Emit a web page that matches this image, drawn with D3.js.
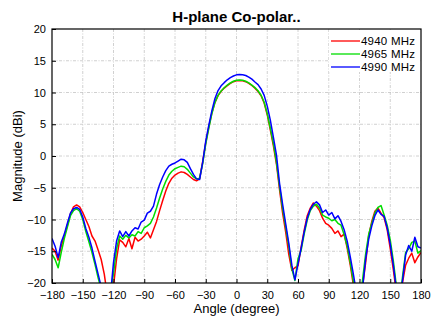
<!DOCTYPE html>
<html>
<head>
<meta charset="utf-8">
<script src="https://cdn.jsdelivr.net/npm/d3@7"></script>
<style>
  body { margin: 0; background: #fff; }
  text { font-family: "Liberation Sans", Arial, sans-serif; }
</style>
</head>
<body>
<div id="chart"></div>
<script>
// angle grid, every 3 degrees from -180 to 180
const angles = d3.range(-180, 181, 3);

const freqLabels = ["4940 MHz", "4965 MHz", "4990 MHz"];
const lineColors = ["#ff0000", "#00dd00", "#0000ff"];

const xTicks = [-180, -150, -120, -90, -60, -30, 0, 30, 60, 90, 120, 150, 180];
const yTicks = [-20, -15, -10, -5, 0, 5, 10, 15, 20];

const mag4940 = [
  -14.5, -15.0, -16.4, -14.2, -12.6, -10.9, -9.1, -8.0, -7.7, -8.0, -8.9, -10.0, -11.1, -12.6, -13.4, -14.8,
  -16.3, -18.6, -22.0, -24.0, -20.5, -16.2, -13.2, -13.6, -14.3, -13.0, -14.6, -12.8, -13.4, -13.1, -12.6,
  -12.0, -12.9, -11.6, -10.3, -8.6, -7.0, -5.5, -4.3, -3.5, -3.0, -2.7, -2.5, -2.6, -2.9, -3.3, -3.7, -3.9,
  -3.6, -0.9, 2.1, 4.6, 6.8, 8.45, 9.5, 10.2, 10.7, 11.08, 11.43, 11.7, 11.85, 11.9, 11.85, 11.7, 11.45,
  11.1, 10.68, 10.18, 9.48, 8.35, 6.5, 4.1, 1.6, -1.3, -5.3, -9.0, -12.0, -15.5, -18.0, -17.6, -17.3, -14.4,
  -11.7, -9.4, -8.2, -7.4, -7.9, -8.6, -9.8, -10.6, -10.9, -11.4, -12.2, -11.8, -12.7, -12.3, -14.5, -17.2,
  -20.3, -22.5, -23.0, -20.5, -16.8, -12.5, -10.3, -8.7, -8.2, -9.0, -9.7, -11.6, -14.6, -17.9, -21.5, -23.0,
  -19.9, -17.2, -16.1, -15.3, -16.8, -15.9, -15.2
];

const mag4965 = [
  -15.5, -16.3, -17.6, -15.2, -13.0, -11.2, -9.4, -8.6, -8.3, -8.7, -10.0, -11.9, -13.5, -15.2, -17.1, -19.2,
  -21.0, -23.0, -24.0, -21.5, -18.5, -14.6, -12.6, -13.1, -12.5, -12.9, -12.4, -12.6, -11.9, -12.2, -11.3,
  -11.0, -10.6, -9.6, -8.2, -6.6, -5.2, -4.0, -3.0, -2.4, -2.0, -1.8, -1.6, -1.7, -2.1, -2.7, -3.3, -3.6,
  -3.5, -1.2, 1.9, 4.4, 6.7, 8.45, 9.55, 10.25, 10.75, 11.15, 11.5, 11.77, 11.92, 11.97, 11.92, 11.77, 11.52,
  11.17, 10.77, 10.27, 9.57, 8.47, 6.67, 4.37, 1.97, -1.0, -4.8, -8.3, -11.2, -14.2, -17.8, -19.6, -16.2, -14.9,
  -12.3, -10.1, -8.6, -7.9, -7.6, -8.2, -9.3, -9.6, -9.8, -10.2, -10.0, -10.6, -10.9, -12.4, -14.2, -16.8,
  -19.7, -22.0, -23.0, -19.5, -15.4, -12.3, -10.6, -9.0, -8.1, -7.8, -9.3, -10.9, -13.2, -16.5, -20.5, -23.0,
  -19.0, -15.2, -14.6, -13.6, -13.4, -15.3, -14.9
];

const mag4990 = [
  -13.0, -14.2, -16.0, -13.6, -12.3, -10.6, -9.0, -8.3, -8.1, -8.4, -9.6, -11.4, -12.8, -14.5, -16.6, -18.6,
  -20.6, -23.0, -24.0, -22.0, -16.8, -13.4, -11.8, -12.7, -11.9, -12.6, -11.8, -11.3, -11.5, -10.4, -10.1,
  -9.0, -8.7, -7.9, -6.0, -4.5, -3.3, -2.3, -1.6, -1.3, -1.1, -0.8, -0.5, -0.6, -1.0, -2.0, -2.9, -3.6,
  -3.7, -1.0, 2.35, 4.85, 7.15, 9.05, 10.3, 11.05, 11.55, 12.0, 12.35, 12.6, 12.78, 12.85, 12.81, 12.68, 12.43,
  12.1, 11.65, 11.25, 10.55, 9.55, 7.85, 5.65, 2.95, 0.15, -4.3, -7.6, -10.7, -13.7, -17.2, -19.5, -17.0, -14.6,
  -12.0, -9.8, -8.4, -7.6, -7.2, -7.7, -8.9, -8.5, -9.3, -8.9, -9.9, -9.4, -10.3, -11.6, -13.4, -15.9,
  -18.6, -21.5, -24.0, -20.8, -16.2, -13.1, -11.0, -9.4, -8.5, -9.2, -9.5, -11.3, -13.9, -17.2, -21.0, -23.0,
  -19.6, -15.6, -14.1, -15.0, -12.8, -14.3, -14.5
];

const seriesValues = [mag4940, mag4965, mag4990];

const W = 433, H = 321;
const margin = { top: 29, right: 12, bottom: 38, left: 52 };
const width = W - margin.left - margin.right;
const height = H - margin.top - margin.bottom;

const svg = d3.select("#chart")
  .append("svg")
  .attr("width", W)
  .attr("height", H);

const chart = svg.append("g")
  .attr("transform", `translate(${margin.left},${margin.top})`);

const x = d3.scaleLinear().domain([-180, 180]).range([0, width]);
const y = d3.scaleLinear().domain([-20, 20]).range([height, 0]);

// grid
chart.append("g")
  .selectAll("line")
  .data(xTicks.slice(1, -1))
  .enter()
  .append("line")
  .attr("x1", d => x(d)).attr("x2", d => x(d))
  .attr("y1", 0).attr("y2", height)
  .attr("stroke", "#c4c4c4")
  .attr("stroke-width", 0.8)
  .attr("stroke-dasharray", "3,1.5,1,1.5");

chart.append("g")
  .selectAll("line")
  .data(yTicks.slice(1, -1))
  .enter()
  .append("line")
  .attr("x1", 0).attr("x2", width)
  .attr("y1", d => y(d)).attr("y2", d => y(d))
  .attr("stroke", "#c4c4c4")
  .attr("stroke-width", 0.8)
  .attr("stroke-dasharray", "3,1.5,1,1.5");

chart.append("clipPath")
  .attr("id", "plotclip")
  .append("rect")
  .attr("width", width)
  .attr("height", height);

const line = d3.line()
  .x((d, i) => x(angles[i]))
  .y(d => y(d));

chart.append("g")
  .attr("clip-path", "url(#plotclip)")
  .selectAll("path")
  .data(seriesValues)
  .enter()
  .append("path")
  .attr("d", d => line(d))
  .attr("fill", "none")
  .attr("stroke", (d, i) => lineColors[i])
  .attr("stroke-width", 1.5)
  .attr("stroke-linejoin", "round");

// axes, ticks pointing inward
const xAxis = chart.append("g")
  .attr("transform", `translate(0,${height})`)
  .call(d3.axisBottom(x).tickValues(xTicks).tickSize(-4).tickPadding(8));

const yAxis = chart.append("g")
  .call(d3.axisLeft(y).tickValues(yTicks).tickSize(-4).tickPadding(6));

[xAxis, yAxis].forEach(a => {
  a.select(".domain").remove();
  a.selectAll("text").style("font-size", "11px").attr("fill", "#000");
  a.selectAll("line").attr("stroke", "#000");
});

chart.append("rect")
  .attr("width", width)
  .attr("height", height)
  .attr("fill", "none")
  .attr("stroke", "#000")
  .attr("stroke-width", 1.2);

// legend
const legend = chart.append("g")
  .attr("transform", `translate(${width - 92},1)`);

legend.append("rect")
  .attr("width", 91)
  .attr("height", 42)
  .attr("fill", "#fff");

const legendRows = legend.selectAll("g")
  .data(freqLabels)
  .enter()
  .append("g")
  .attr("transform", (d, i) => `translate(0,${11 + i * 13})`);

legendRows.append("line")
  .attr("x1", 2).attr("x2", 31)
  .attr("stroke", (d, i) => lineColors[i])
  .attr("stroke-width", 1.3);

legendRows.append("text")
  .attr("x", 32)
  .attr("dy", "0.35em")
  .style("font-size", "11.5px")
  .attr("textLength", 54)
  .text(d => d);

// title + axis labels
svg.append("text")
  .attr("x", margin.left + width / 2)
  .attr("y", 22)
  .attr("text-anchor", "middle")
  .style("font-size", "15px")
  .style("font-weight", "bold")
  .text("H-plane Co-polar..");

svg.append("text")
  .attr("x", margin.left + width / 2)
  .attr("y", 313)
  .attr("text-anchor", "middle")
  .style("font-size", "13px")
  .text("Angle (degree)");

svg.append("text")
  .attr("transform", "rotate(-90)")
  .attr("x", -(margin.top + height / 2))
  .attr("y", 22)
  .attr("text-anchor", "middle")
  .style("font-size", "13px")
  .text("Magnitude (dBi)");
</script>
</body>
</html>
